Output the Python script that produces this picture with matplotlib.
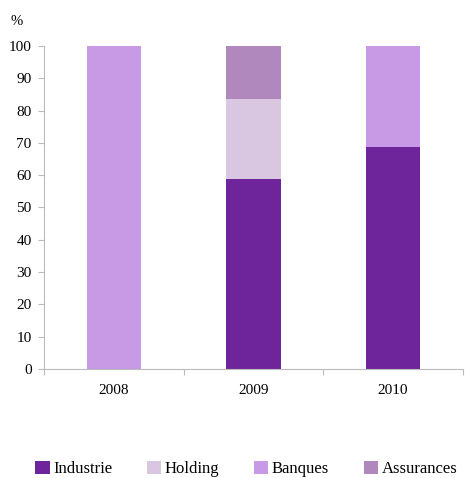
import matplotlib
matplotlib.use("Agg")
from matplotlib import pyplot as plt
import numpy as np

years = ["2008", "2009", "2010"]
industrie = [0, 58.8, 68.6]
holding = [0, 24.8, 0]
banques = [100, 0, 31.4]
assurances = [0, 16.4, 0]

series = [("Industrie", industrie, "#6E259B"),
          ("Holding", holding, "#D9C7E2"),
          ("Banques", banques, "#C89AE6"),
          ("Assurances", assurances, "#B088BE")]

plt.rcParams['font.family'] = ['Liberation Serif', 'DejaVu Serif']

fig = plt.figure(figsize=(4.65, 4.78), dpi=100)
ax = fig.add_axes([0.095, 0.228, 0.9, 0.676])

x = np.arange(len(years))
bottom = np.zeros(len(years))
for name, vals, color in series:
    ax.bar(x, vals, width=0.39, bottom=bottom, color=color, label=name, linewidth=0)
    bottom += np.array(vals)

ax.set_xlim(-0.5, 2.5)
ax.set_ylim(0, 100)
ax.set_yticks(range(0, 101, 10))
ax.set_xticks([-0.5, 0.5, 1.5, 2.5], minor=False)
ax.set_xticklabels([])
ax.set_xticks(x, minor=True)
ax.set_xticklabels(years, minor=True)
ax.tick_params(axis='x', which='minor', length=0, pad=11, labelsize=11)
ax.tick_params(axis='x', which='major', length=4, color='#BBBBBB', direction='out')
ax.tick_params(axis='y', length=4, color='#BBBBBB', direction='out', labelsize=11, pad=5)

for side in ['top', 'right']:
    ax.spines[side].set_visible(False)
for side in ['left', 'bottom']:
    ax.spines[side].set_color('#BBBBBB')

fig.text(0.022, 0.948, "%", fontsize=10.5)

ax.legend(loc='center', bbox_to_anchor=(0.483, -0.31), ncol=4, frameon=False,
          fontsize=12, handlelength=0.85, handleheight=0.85, handletextpad=0.2,
          columnspacing=2.1)

fig.savefig("out.png", dpi=100)
